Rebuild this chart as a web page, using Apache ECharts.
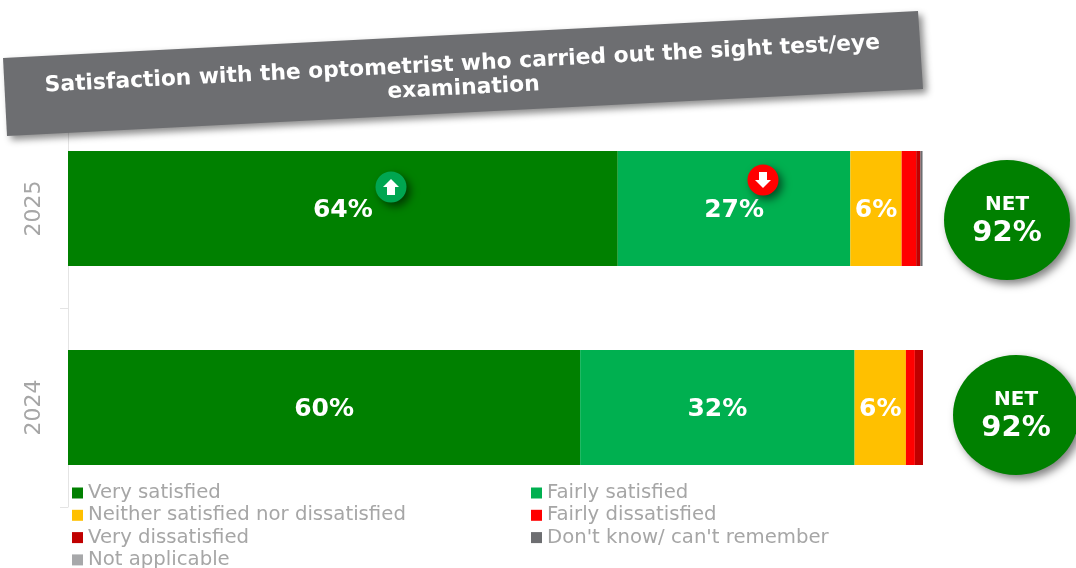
<!DOCTYPE html>
<html>
<head>
<meta charset="utf-8">
<title>Satisfaction with the optometrist</title>
<style>
html, body { margin: 0; padding: 0; background: #fff; }
#main { width: 1076px; height: 568px; }
</style>
<script src="https://cdn.jsdelivr.net/npm/echarts@6/dist/echarts.min.js"></script>
</head>
<body>
<div id="main"></div>
<script>
var years = ['2025', '2024'];

var verySatisfied = [64.3, 59.9];
var fairlySatisfied = [27.2, 32.1];
var neither = [6.0, 6.0];
var fairlyDissatisfied = [1.7, 1.05];
var veryDissatisfied = [0.5, 0.95];
var dontKnow = [0.2, 0];
var notApplicable = [0.1, 0];

var netScores = ['92%', '92%'];

var titleText = 'Satisfaction with the optometrist who carried out the sight test/eye\nexamination';
var fontName = '"DejaVu Sans", Verdana, sans-serif';
var greyText = '#A6A6A6';

// labels only fit on the big segments
function barLabel(show) {
    return {
        show: show,
        position: 'inside',
        offset: [0, 2],
        color: '#fff',
        fontFamily: fontName,
        fontWeight: 'bold',
        fontSize: 25,
        formatter: function (p) {
            return Math.round(p.value) + '%';
        }
    };
}

function makeSeries(name, values, color, show) {
    return {
        name: name,
        type: 'bar',
        stack: 'total',
        barWidth: 115,
        data: values,
        itemStyle: { color: color },
        label: barLabel(show),
        emphasis: { disabled: true }
    };
}

function arrowBadge(cx, cy, color, up) {
    var d = up ? 1 : -1;
    return {
        type: 'group',
        x: cx,
        y: cy,
        z: 100,
        children: [
            {
                type: 'circle',
                z: 100,
                shape: { cx: 0, cy: 0, r: 15.5 },
                style: { fill: color, shadowColor: 'rgba(0,0,0,0.55)', shadowBlur: 8, shadowOffsetX: 4, shadowOffsetY: 4 }
            },
            {
                type: 'polygon',
                z: 101,
                shape: { points: [[0, -8 * d], [8 * d, 0], [4 * d, 0], [4 * d, 8 * d], [-4 * d, 8 * d], [-4 * d, 0], [-8 * d, 0]] },
                style: { fill: '#fff' }
            }
        ]
    };
}

function netBadge(cx, cy, net) {
    return {
        type: 'group',
        x: cx,
        y: cy,
        z: 100,
        children: [
            {
                type: 'ellipse',
                z: 100,
                shape: { cx: 0, cy: 0, rx: 63, ry: 60 },
                style: { fill: '#008000', shadowColor: 'rgba(0,0,0,0.5)', shadowBlur: 8, shadowOffsetX: 4, shadowOffsetY: 4 }
            },
            {
                type: 'text',
                z: 101,
                x: 0,
                y: -15,
                style: { text: 'NET', fill: '#fff', font: 'bold 20px ' + fontName, textAlign: 'center', textVerticalAlign: 'middle' }
            },
            {
                type: 'text',
                z: 101,
                x: 0,
                y: 13,
                style: { text: net, fill: '#fff', font: 'bold 29px ' + fontName, textAlign: 'center', textVerticalAlign: 'middle' }
            }
        ]
    };
}

var myChart = echarts.init(document.getElementById('main'), null, { renderer: 'canvas' });

var legendBase = {
    orient: 'vertical',
    height: 100,
    itemWidth: 11,
    itemHeight: 11,
    itemGap: 2.3,
    icon: 'rect',
    selectedMode: false,
    padding: 0,
    textStyle: { color: greyText, fontFamily: fontName, fontSize: 19.7, lineHeight: 20, padding: [0, 0, 0, 0] }
};

var option = {
    animation: false,
    backgroundColor: '#fff',
    grid: { left: 68, right: 153, top: 109, bottom: 61, containLabel: false },
    legend: [
        Object.assign({}, legendBase, {
            left: 72,
            top: 483,
            data: ['Very satisfied', 'Neither satisfied nor dissatisfied', 'Very dissatisfied', 'Not applicable']
        }),
        Object.assign({}, legendBase, {
            left: 531,
            top: 483,
            data: ['Fairly satisfied', 'Fairly dissatisfied', "Don't know/ can't remember"]
        })
    ],
    xAxis: { type: 'value', min: 0, max: 100, show: false },
    yAxis: {
        type: 'category',
        inverse: true,
        data: years,
        axisLine: { show: true, lineStyle: { color: '#E4E4E4' } },
        axisTick: { show: true, length: 8, lineStyle: { color: '#E4E4E4' } },
        axisLabel: { rotate: 90, color: greyText, fontFamily: fontName, fontSize: 22, margin: 23 }
    },
    series: [
        makeSeries('Very satisfied', verySatisfied, '#008000', true),
        makeSeries('Fairly satisfied', fairlySatisfied, '#00B050', true),
        makeSeries('Neither satisfied nor dissatisfied', neither, '#FFC000', true),
        makeSeries('Fairly dissatisfied', fairlyDissatisfied, '#FF0000', false),
        makeSeries('Very dissatisfied', veryDissatisfied, '#C00000', false),
        makeSeries("Don't know/ can't remember", dontKnow, '#6D6E71', false),
        makeSeries('Not applicable', notApplicable, '#A7A8AA', false)
    ],
    graphic: [
        {
            type: 'polygon',
            z: 90,
            shape: { points: [[3, 58], [918, 11], [923, 89], [7, 136]] },
            style: { fill: '#6D6E71', shadowColor: 'rgba(0,0,0,0.45)', shadowBlur: 7, shadowOffsetX: 4, shadowOffsetY: 4 }
        },
        {
            type: 'text',
            z: 91,
            x: 463,
            y: 76.5,
            rotation: 0.0513,
            style: {
                text: titleText,
                fill: '#fff',
                font: 'bold 21.8px ' + fontName,
                lineHeight: 24,
                textAlign: 'center',
                textVerticalAlign: 'middle'
            }
        },
        arrowBadge(391, 187, '#00A651', true),
        arrowBadge(763, 180, '#FF0000', false),
        netBadge(1007, 220, netScores[0]),
        netBadge(1016, 415, netScores[1])
    ]
};

myChart.setOption(option);
</script>
</body>
</html>
